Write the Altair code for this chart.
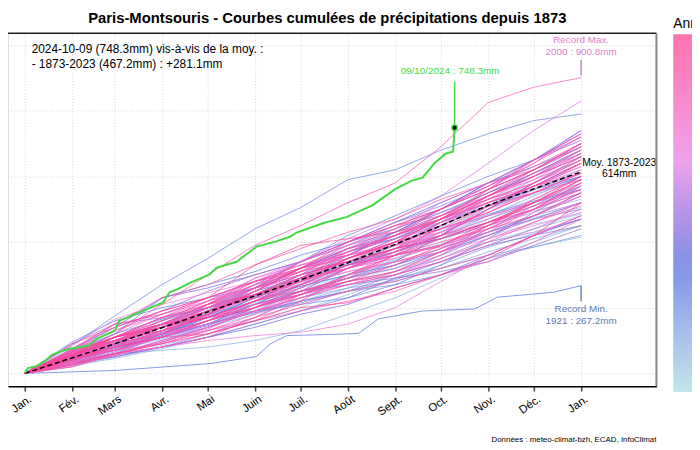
import altair as alt
import pandas as pd

# ---- axis categories ----
month_days = [0, 31, 59, 90, 120, 151, 181, 212, 243, 273, 304, 334, 365]
month_labels = ["Jan.", "Fév.", "Mars", "Avr.", "Mai", "Juin", "Juil.", "Août",
                "Sept.", "Oct.", "Nov.", "Déc.", "Jan."]
grid_mm = [0, 200, 400, 600, 800, 1000]

# ---- cumulative precipitation (mm) at each month start, estimated ----
c1873 = [0, 40, 85, 120, 160, 215, 260, 300, 345, 400, 470, 520, 575]
c1874 = [0, 30, 70, 110, 150, 190, 230, 280, 320, 360, 400, 440, 490]
c1875 = [0, 30, 60, 95, 140, 200, 240, 290, 330, 380, 430, 470, 520]
c1877 = [0, 55, 100, 150, 195, 240, 300, 350, 400, 445, 500, 560, 610]
c1878 = [0, 50, 90, 140, 200, 260, 320, 380, 420, 470, 530, 590, 650]
c1879 = [0, 35, 80, 120, 170, 230, 300, 360, 430, 460, 510, 545, 590]
c1881 = [0, 20, 50, 85, 120, 160, 200, 260, 310, 370, 420, 455, 485]
c1882 = [0, 45, 85, 130, 180, 240, 300, 350, 410, 480, 560, 620, 680]
c1883 = [0, 60, 100, 140, 175, 220, 265, 300, 345, 395, 440, 475, 505]
c1885 = [0, 35, 65, 110, 160, 210, 250, 300, 350, 410, 480, 530, 580]
c1886 = [0, 50, 95, 140, 200, 250, 290, 330, 370, 430, 510, 580, 660]
c1888 = [0, 45, 75, 110, 150, 210, 275, 335, 380, 410, 460, 495, 530]
c1890 = [0, 25, 45, 75, 110, 150, 190, 240, 290, 320, 360, 385, 415]
c1892 = [0, 40, 70, 105, 140, 180, 220, 260, 300, 340, 390, 440, 480]
c1893 = [0, 40, 60, 70, 80, 100, 130, 180, 230, 290, 350, 400, 450]
c1895 = [0, 55, 95, 140, 180, 210, 250, 290, 320, 370, 430, 480, 540]
c1897 = [0, 35, 70, 120, 170, 230, 290, 340, 390, 450, 510, 560, 620]
c1898 = [0, 25, 55, 100, 140, 190, 230, 260, 280, 320, 370, 410, 450]
c1900 = [0, 45, 110, 160, 200, 240, 290, 340, 370, 420, 480, 540, 600]
c1902 = [0, 60, 100, 140, 180, 220, 270, 320, 360, 420, 470, 520, 570]
c1904 = [0, 50, 80, 115, 150, 185, 220, 250, 285, 330, 385, 425, 470]
c1906 = [0, 40, 75, 110, 150, 185, 215, 250, 270, 300, 350, 385, 420]
c1908 = [0, 35, 80, 130, 185, 235, 285, 335, 380, 430, 485, 525, 560]
c1910 = [0, 85, 175, 270, 350, 440, 505, 590, 620, 680, 730, 770, 790]
c1911 = [0, 45, 90, 140, 170, 190, 210, 230, 270, 330, 410, 490, 570]
c1912 = [0, 40, 90, 140, 200, 270, 340, 420, 480, 540, 600, 650, 720]
c1914 = [0, 55, 100, 150, 210, 260, 320, 380, 410, 460, 520, 570, 640]
c1915 = [0, 95, 160, 200, 230, 260, 300, 340, 380, 410, 460, 510, 570]
c1916 = [0, 60, 120, 230, 270, 310, 360, 400, 440, 490, 550, 600, 660]
c1919 = [0, 70, 120, 165, 200, 235, 265, 300, 330, 370, 420, 480, 550]
c1920 = [0, 70, 100, 150, 210, 260, 320, 380, 420, 470, 520, 560, 600]
c1924 = [0, 40, 70, 120, 190, 260, 340, 400, 460, 520, 580, 630, 690]
c1926 = [0, 45, 80, 120, 175, 250, 320, 370, 410, 470, 540, 610, 680]
c1928 = [0, 50, 80, 110, 150, 210, 270, 330, 370, 420, 500, 570, 640]
c1930 = [0, 60, 100, 130, 170, 220, 290, 360, 430, 500, 580, 650, 740]
c1932 = [0, 30, 60, 115, 170, 230, 280, 330, 390, 460, 510, 550, 600]
c1934 = [0, 30, 50, 80, 110, 140, 180, 210, 260, 300, 360, 420, 470]
c1935 = [0, 40, 85, 125, 160, 200, 240, 290, 340, 420, 500, 580, 650]
c1937 = [0, 75, 140, 230, 260, 300, 340, 390, 430, 480, 550, 610, 670]
c1939 = [0, 50, 90, 150, 200, 240, 300, 380, 430, 500, 580, 650, 710]
c1941 = [0, 40, 80, 110, 145, 200, 260, 320, 370, 410, 450, 500, 550]
c1943 = [0, 35, 55, 80, 110, 150, 190, 230, 290, 340, 390, 420, 450]
c1945 = [0, 50, 90, 120, 150, 190, 220, 250, 300, 360, 420, 470, 520]
c1947 = [0, 50, 110, 170, 200, 230, 250, 270, 290, 310, 340, 390, 440]
c1948 = [0, 90, 150, 170, 200, 250, 290, 330, 360, 390, 430, 470, 500]
c1950 = [0, 45, 100, 140, 190, 250, 320, 390, 450, 500, 560, 620, 690]
c1951 = [0, 70, 140, 190, 250, 300, 340, 400, 460, 510, 570, 650, 730]
c1953 = [0, 30, 50, 80, 120, 170, 230, 280, 310, 350, 400, 430, 470]
c1955 = [0, 70, 110, 140, 170, 210, 250, 290, 330, 380, 430, 480, 520]
c1956 = [0, 40, 60, 100, 140, 190, 250, 320, 400, 440, 480, 520, 560]
c1958 = [0, 55, 110, 150, 200, 260, 320, 370, 430, 490, 540, 600, 680]
c1960 = [0, 45, 90, 120, 160, 200, 250, 320, 380, 460, 560, 640, 740]
c1961 = [0, 60, 90, 110, 150, 200, 250, 290, 320, 370, 440, 510, 590]
c1962 = [0, 50, 80, 120, 160, 210, 240, 270, 300, 340, 390, 440, 500]
c1963 = [0, 30, 65, 110, 160, 220, 280, 350, 410, 450, 510, 560, 610]
c1965 = [0, 60, 100, 150, 210, 270, 340, 400, 460, 500, 560, 620, 690]
c1966 = [0, 55, 110, 160, 220, 280, 340, 410, 470, 540, 640, 740, 830]
c1967 = [0, 45, 100, 140, 210, 260, 300, 340, 400, 470, 520, 570, 630]
c1969 = [0, 50, 95, 130, 180, 240, 280, 320, 360, 390, 440, 500, 570]
c1970 = [0, 85, 165, 210, 245, 280, 320, 360, 390, 420, 470, 530, 600]
c1972 = [0, 40, 70, 110, 160, 220, 270, 310, 340, 370, 410, 450, 490]
c1974 = [0, 55, 90, 110, 140, 190, 240, 300, 370, 450, 520, 570, 640]
c1976 = [0, 35, 60, 80, 100, 115, 125, 150, 200, 280, 360, 420, 480]
c1977 = [0, 55, 110, 150, 190, 250, 310, 380, 420, 460, 520, 590, 670]
c1978 = [0, 65, 110, 170, 230, 280, 330, 360, 390, 420, 450, 490, 540]
c1979 = [0, 65, 120, 180, 230, 280, 320, 360, 390, 430, 490, 560, 640]
c1980 = [0, 50, 90, 140, 180, 230, 290, 340, 370, 430, 500, 550, 610]
c1981 = [0, 60, 110, 170, 220, 290, 340, 390, 440, 520, 580, 650, 720]
c1982 = [0, 70, 100, 130, 180, 240, 300, 350, 400, 460, 530, 600, 680]
c1983 = [0, 50, 80, 130, 210, 290, 330, 360, 400, 430, 480, 520, 570]
c1984 = [0, 65, 110, 150, 210, 260, 290, 320, 360, 420, 510, 570, 630]
c1985 = [0, 45, 80, 125, 175, 235, 280, 330, 360, 385, 420, 480, 540]
c1986 = [0, 55, 90, 140, 200, 240, 270, 310, 340, 370, 430, 500, 580]
c1987 = [0, 35, 80, 140, 190, 250, 310, 370, 420, 470, 540, 590, 650]
c1988 = [0, 70, 130, 190, 230, 280, 330, 380, 420, 470, 530, 570, 620]
c1989 = [0, 20, 55, 100, 130, 160, 190, 220, 250, 300, 340, 400, 470]
c1990 = [0, 40, 90, 120, 150, 190, 230, 270, 300, 350, 410, 460, 510]
c1991 = [0, 40, 70, 110, 160, 220, 280, 320, 350, 390, 450, 500, 550]
c1992 = [0, 25, 55, 95, 135, 200, 270, 350, 410, 470, 540, 600, 660]
c1993 = [0, 50, 70, 90, 130, 180, 240, 300, 360, 450, 540, 600, 660]
c1994 = [0, 60, 110, 160, 220, 270, 310, 360, 420, 500, 570, 630, 700]
c1995 = [0, 70, 130, 180, 220, 260, 300, 340, 400, 440, 490, 550, 610]
c1996 = [0, 35, 60, 95, 140, 190, 230, 270, 310, 360, 440, 500, 560]
c1997 = [0, 20, 60, 80, 110, 170, 240, 300, 340, 380, 450, 520, 580]
c1998 = [0, 50, 70, 110, 160, 220, 290, 320, 380, 460, 530, 580, 640]
c1999 = [0, 55, 100, 145, 200, 260, 310, 360, 420, 480, 540, 620, 700]
c2000 = [0, 55, 120, 210, 300, 390, 450, 520, 580, 690, 825, 872, 900.8]
c2001 = [0, 75, 150, 230, 270, 330, 380, 430, 470, 530, 580, 620, 690]
c2002 = [0, 50, 110, 150, 200, 260, 320, 370, 420, 480, 550, 620, 700]
c2003 = [0, 60, 90, 120, 160, 210, 240, 280, 300, 340, 400, 460, 520]
c2004 = [0, 55, 95, 140, 190, 240, 280, 350, 390, 450, 510, 550, 590]
c2005 = [0, 30, 60, 90, 130, 170, 210, 250, 280, 320, 360, 420, 480]
c2006 = [0, 30, 75, 130, 200, 240, 280, 350, 400, 440, 490, 550, 610]
c2007 = [0, 60, 110, 150, 180, 260, 340, 400, 450, 480, 530, 580, 650]
c2008 = [0, 60, 100, 160, 210, 270, 320, 380, 440, 500, 570, 640, 720]
c2009 = [0, 50, 100, 140, 190, 230, 280, 330, 360, 390, 450, 530, 600]
c2010 = [0, 45, 85, 130, 170, 220, 260, 320, 370, 420, 500, 580, 660]
c2011 = [0, 45, 80, 110, 120, 160, 220, 300, 360, 400, 440, 480, 550]
c2012 = [0, 45, 70, 120, 180, 240, 300, 340, 380, 440, 510, 570, 640]
c2013 = [0, 55, 100, 150, 210, 280, 320, 350, 400, 470, 540, 600, 670]
c2014 = [0, 65, 110, 140, 190, 240, 290, 370, 420, 470, 540, 610, 680]
c2015 = [0, 55, 100, 130, 170, 220, 250, 290, 360, 410, 460, 510, 560]
c2016 = [0, 70, 150, 180, 230, 330, 390, 410, 430, 470, 520, 570, 610]
c2017 = [0, 40, 90, 140, 170, 220, 270, 330, 380, 420, 460, 520, 590]
c2018 = [0, 90, 140, 190, 230, 280, 310, 340, 380, 410, 460, 520, 600]
c2019 = [0, 40, 80, 110, 160, 200, 240, 280, 310, 370, 450, 520, 590]
c2020 = [0, 45, 110, 150, 170, 200, 250, 280, 330, 390, 460, 500, 580]
c2021 = [0, 65, 110, 140, 180, 250, 320, 400, 450, 500, 560, 620, 700]
c2022 = [0, 25, 60, 90, 120, 160, 200, 215, 260, 300, 350, 420, 520]
c2023 = [0, 55, 110, 170, 210, 240, 290, 350, 400, 470, 560, 650, 730]

# record minimum year 1921 (day of year, cumulative mm)
d1921 = [0, 60, 122, 152, 161, 172, 211, 219, 232, 261, 295, 304, 310, 347, 365]
v1921 = [0, 9, 30, 51, 90, 115, 120, 122, 166, 190, 196, 217, 232, 247, 267.2]

# current year 2024 up to 9 October
d2024 = [0, 2, 8, 14, 18, 29, 42, 47, 59, 62, 73, 91, 95, 100, 109, 121, 126, 139,
         152, 165, 174, 178, 196, 211, 228, 243, 254, 261, 269, 276, 281, 282]
v2024 = [0, 16, 22, 40, 57, 75, 84, 105, 130, 160, 181, 217, 247, 256, 277, 301, 322,
         340, 386, 402, 416, 428, 458, 476, 512, 561, 587, 596, 641, 669, 676, 748.3]

# mean 1873-2023 at each month start
mean_cumul = [0, 47, 90, 139, 187, 236, 285, 337, 393, 450, 512, 562, 614]

year_series = [
    (1873, c1873), (1874, c1874), (1875, c1875), (1877, c1877), (1878, c1878),
    (1879, c1879), (1881, c1881), (1882, c1882), (1883, c1883), (1885, c1885),
    (1886, c1886), (1888, c1888), (1890, c1890), (1892, c1892), (1893, c1893),
    (1895, c1895), (1897, c1897), (1898, c1898), (1900, c1900), (1902, c1902),
    (1904, c1904), (1906, c1906), (1908, c1908), (1910, c1910), (1911, c1911),
    (1912, c1912), (1914, c1914), (1915, c1915), (1916, c1916), (1919, c1919),
    (1920, c1920), (1924, c1924), (1926, c1926), (1928, c1928), (1930, c1930),
    (1932, c1932), (1934, c1934), (1935, c1935), (1937, c1937), (1939, c1939),
    (1941, c1941), (1943, c1943), (1945, c1945), (1947, c1947), (1948, c1948),
    (1950, c1950), (1951, c1951), (1953, c1953), (1955, c1955), (1956, c1956),
    (1958, c1958), (1960, c1960), (1961, c1961), (1962, c1962), (1963, c1963),
    (1965, c1965), (1966, c1966), (1967, c1967), (1969, c1969), (1970, c1970),
    (1972, c1972), (1974, c1974), (1976, c1976), (1977, c1977), (1978, c1978),
    (1979, c1979), (1980, c1980), (1981, c1981), (1982, c1982), (1983, c1983),
    (1984, c1984), (1985, c1985), (1986, c1986), (1987, c1987), (1988, c1988),
    (1989, c1989), (1990, c1990), (1991, c1991), (1992, c1992), (1993, c1993),
    (1994, c1994), (1995, c1995), (1996, c1996), (1997, c1997), (1998, c1998),
    (1999, c1999), (2000, c2000), (2001, c2001), (2002, c2002), (2003, c2003),
    (2004, c2004), (2005, c2005), (2006, c2006), (2007, c2007), (2008, c2008),
    (2009, c2009), (2010, c2010), (2011, c2011), (2012, c2012), (2013, c2013),
    (2014, c2014), (2015, c2015), (2016, c2016), (2017, c2017), (2018, c2018),
    (2019, c2019), (2020, c2020), (2021, c2021), (2022, c2022), (2023, c2023),
]

rows = []
for yr, vals in year_series:
    for d, v in zip(month_days, vals):
        rows.append({"year": yr, "day": d, "mm": v})
for d, v in zip(d1921, v1921):
    rows.append({"year": 1921, "day": d, "mm": v})
df = pd.DataFrame(rows).sort_values(["year", "day"]).reset_index(drop=True)

df2024 = pd.DataFrame({"day": d2024, "mm": v2024})
df_mean = pd.DataFrame({"day": month_days, "mm": mean_cumul})
one = alt.Data(values=[{}])

FONT = "Liberation Sans"
GREEN = "#44d844"

xs = alt.Scale(domain=[-11, 414.4], nice=False, zero=False)
ys = alt.Scale(domain=[-39, 1036], nice=False, zero=False)

label_expr = ("[" + ",".join("'" + m + "'" for m in month_labels) + "][indexof(["
              + ",".join(str(d) for d in month_days) + "], datum.value)]")

xaxis = alt.Axis(values=month_days, labelExpr=label_expr, labelAngle=325,
                 labelAlign="right", labelBaseline="top", labelFontSize=11.5,
                 labelFont=FONT, labelColor="black", labelPadding=2, labelOffset=2,
                 labelOverlap=False, labelBound=False, labelFlush=False,
                 tickSize=5, tickColor="#444", tickWidth=1.5,
                 domainColor="black", domainWidth=1.5,
                 grid=True, gridColor="#d4d4d4", gridDash=[1, 2], title=None)
yaxis = alt.Axis(values=grid_mm, labels=False, ticks=False, domain=False,
                 grid=True, gridColor="#d4d4d4", gridDash=[1, 2], title=None)

color_scale = alt.Scale(
    domain=[1873, 1903, 1925.5, 1940.5, 1955.5, 1970.5, 1993, 2023],
    range=["#a8dde2", "#7a9ae0", "#4a68e0", "#8466dd", "#b070e0", "#ea80e4",
           "#f45ec0", "#ff3d8c"],
    interpolate="rgb")

legend = alt.Legend(orient="none", legendX=673, legendY=-16, direction="vertical",
                    gradientLength=362, gradientThickness=30, gradientStrokeWidth=0,
                    title="Année", titleFontSize=14, titleFontWeight="normal",
                    titleFont=FONT, titleColor="black", titlePadding=3,
                    labelExpr="''", labelFontSize=1)

X = lambda: alt.X("day:Q", scale=xs, axis=xaxis)
Y = lambda: alt.Y("mm:Q", scale=ys, axis=yaxis)

lines = alt.Chart(df).mark_line(strokeWidth=1, opacity=0.72).encode(
    x=X(), y=Y(),
    color=alt.Color("year:Q", scale=color_scale, legend=legend),
    detail="year:N",
)

mean_line = alt.Chart(df_mean).mark_line(color="black", strokeDash=[5, 3],
                                         strokeWidth=1.5).encode(x=X(), y=Y())

line2024 = alt.Chart(df2024).mark_line(color=GREEN, strokeWidth=2).encode(x=X(), y=Y())

stem2024 = alt.Chart(one).mark_rule(color=GREEN, strokeWidth=1.5).encode(
    x=alt.datum(282), y=alt.datum(748.3), y2=alt.datum(889))
dot2024 = alt.Chart(one).mark_point(filled=True, fill="black", stroke=GREEN,
                                    strokeWidth=1.5, size=30, opacity=1).encode(
    x=alt.datum(282), y=alt.datum(748.3))
lab2024 = alt.Chart(one).mark_text(text="09/10/2024 : 748.3mm", color=GREEN,
                                   fontSize=10, font=FONT, align="center",
                                   baseline="middle").encode(
    x=alt.datum(279), y=alt.datum(922))

max_stem = alt.Chart(one).mark_rule(color="#c68ac6", strokeWidth=1.5).encode(
    x=alt.datum(365), y=alt.datum(907), y2=alt.datum(955))
max_lab = alt.Chart(one).mark_text(text=["Record Max.", "2000 : 900.8mm"],
                                   color="#dd80c8", fontSize=10, font=FONT,
                                   align="center", baseline="middle",
                                   lineHeight=12).encode(
    x=alt.datum(365), y=alt.datum(1015))

min_stem = alt.Chart(one).mark_rule(color="#6f8cbf", strokeWidth=1.5).encode(
    x=alt.datum(365), y=alt.datum(267.2), y2=alt.datum(220))
min_lab = alt.Chart(one).mark_text(text=["Record Min.", "1921 : 267.2mm"],
                                   color="#5b7bb0", fontSize=10, font=FONT,
                                   align="center", baseline="middle",
                                   lineHeight=12).encode(
    x=alt.datum(365), y=alt.datum(196))

mean_lab = alt.Chart(one).mark_text(text=["Moy. 1873-2023", "614mm"],
                                    color="black", fontSize=10.5, font=FONT,
                                    align="center", baseline="middle",
                                    lineHeight=12).encode(
    x=alt.datum(390), y=alt.datum(642))

info_lab = alt.Chart(one).mark_text(
    text=["2024-10-09 (748.3mm) vis-à-vis de la moy. :",
          "\u00a0- 1873-2023 (467.2mm) : +281.1mm"],
    color="black", fontSize=12, font=FONT, align="left", baseline="middle",
    lineHeight=15).encode(x=alt.datum(4.5), y=alt.datum(988))

title_txt = alt.Chart(one).mark_text(
    text="Paris-Montsouris - Courbes cumulées de précipitations depuis 1873",
    fontSize=15, fontWeight="bold", font=FONT, color="black", align="center",
    baseline="middle").encode(x=alt.value(323), y=alt.value(-15))

source_txt = alt.Chart(one).mark_text(
    text="Données : meteo-climat-bzh, ECAD, InfoClimat",
    fontSize=8, font=FONT, color="black", align="right",
    baseline="middle").encode(x=alt.datum(414.4), y=alt.value(411))

top_border = alt.Chart(one).mark_rule(color="#222", strokeWidth=1.5).encode(
    x=alt.datum(-11), x2=alt.datum(414.4), y=alt.datum(1036))
right_border = alt.Chart(one).mark_rule(color="#888", strokeWidth=2).encode(
    x=alt.datum(414.4), y=alt.datum(-39), y2=alt.datum(1036))

chart = alt.layer(
    lines, mean_line, line2024, stem2024, dot2024, lab2024,
    max_stem, max_lab, min_stem, min_lab, mean_lab, info_lab,
    title_txt, source_txt, top_border, right_border,
).properties(
    width=656, height=357,
    padding={"left": 0, "top": 23, "right": 36, "bottom": 60},
    autosize=alt.AutoSizeParams(type="none"),
).configure_view(stroke=None).configure(font=FONT)

chart.save("out.html", embed_options={"renderer": "svg", "actions": False})
